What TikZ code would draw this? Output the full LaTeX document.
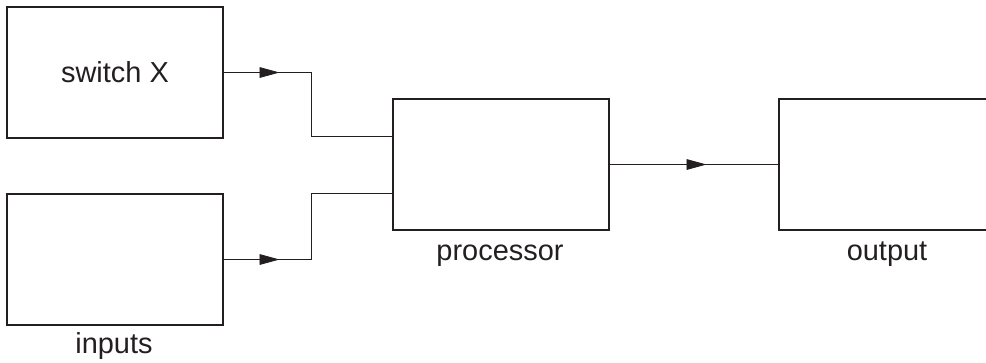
\documentclass[tikz,border=0pt]{standalone}
\usepackage{fontspec}
\setmainfont{Liberation Sans}
\usetikzlibrary{arrows.meta,decorations.markings}
\definecolor{ink}{HTML}{231F20}
\begin{document}
\begin{tikzpicture}[x=0.75pt,y=-0.75pt,
  box/.style={draw=ink,line width=1.3pt,rectangle,minimum width=161.5pt,minimum height=98.25pt,inner sep=0pt,
    font=\fontsize{21.7pt}{25pt}\selectfont,text=ink},
  lbl/.style={anchor=base,inner sep=0pt,font=\fontsize{21.7pt}{25pt}\selectfont,text=ink},
  conn/.style={draw=ink,line width=0.6pt,postaction={decorate},
    decoration={markings,mark=at position #1 with {\arrow{Triangle[length=15pt,width=8pt]}}}}
]
\path[use as bounding box,clip] (0,0) rectangle (986,362);
\node[box] (sw) at (115,72.5) {switch X};
\node[box] (in) at (115,259.5) {};
\node[box] (proc) at (501,164.5) {};
\node[box] (out) at (887,164.5) {};
\node[lbl] (inl) at (114,353) {inputs};
\node[lbl] (procl) at (500,260) {processor};
\node[lbl] (outl) at (887,260) {output};
\coordinate (p1) at ([yshift=21.4pt]proc.west);
\coordinate (p2) at ([yshift=-21.4pt]proc.west);
\draw[conn=42pt] (sw.east) -- ++(88,0) |- (p1);
\draw[conn=42pt] (in.east) -- ++(88,0) |- (p2);
\draw[conn=72.75pt] (proc.east) -- (out.west);
\end{tikzpicture}
\end{document}
